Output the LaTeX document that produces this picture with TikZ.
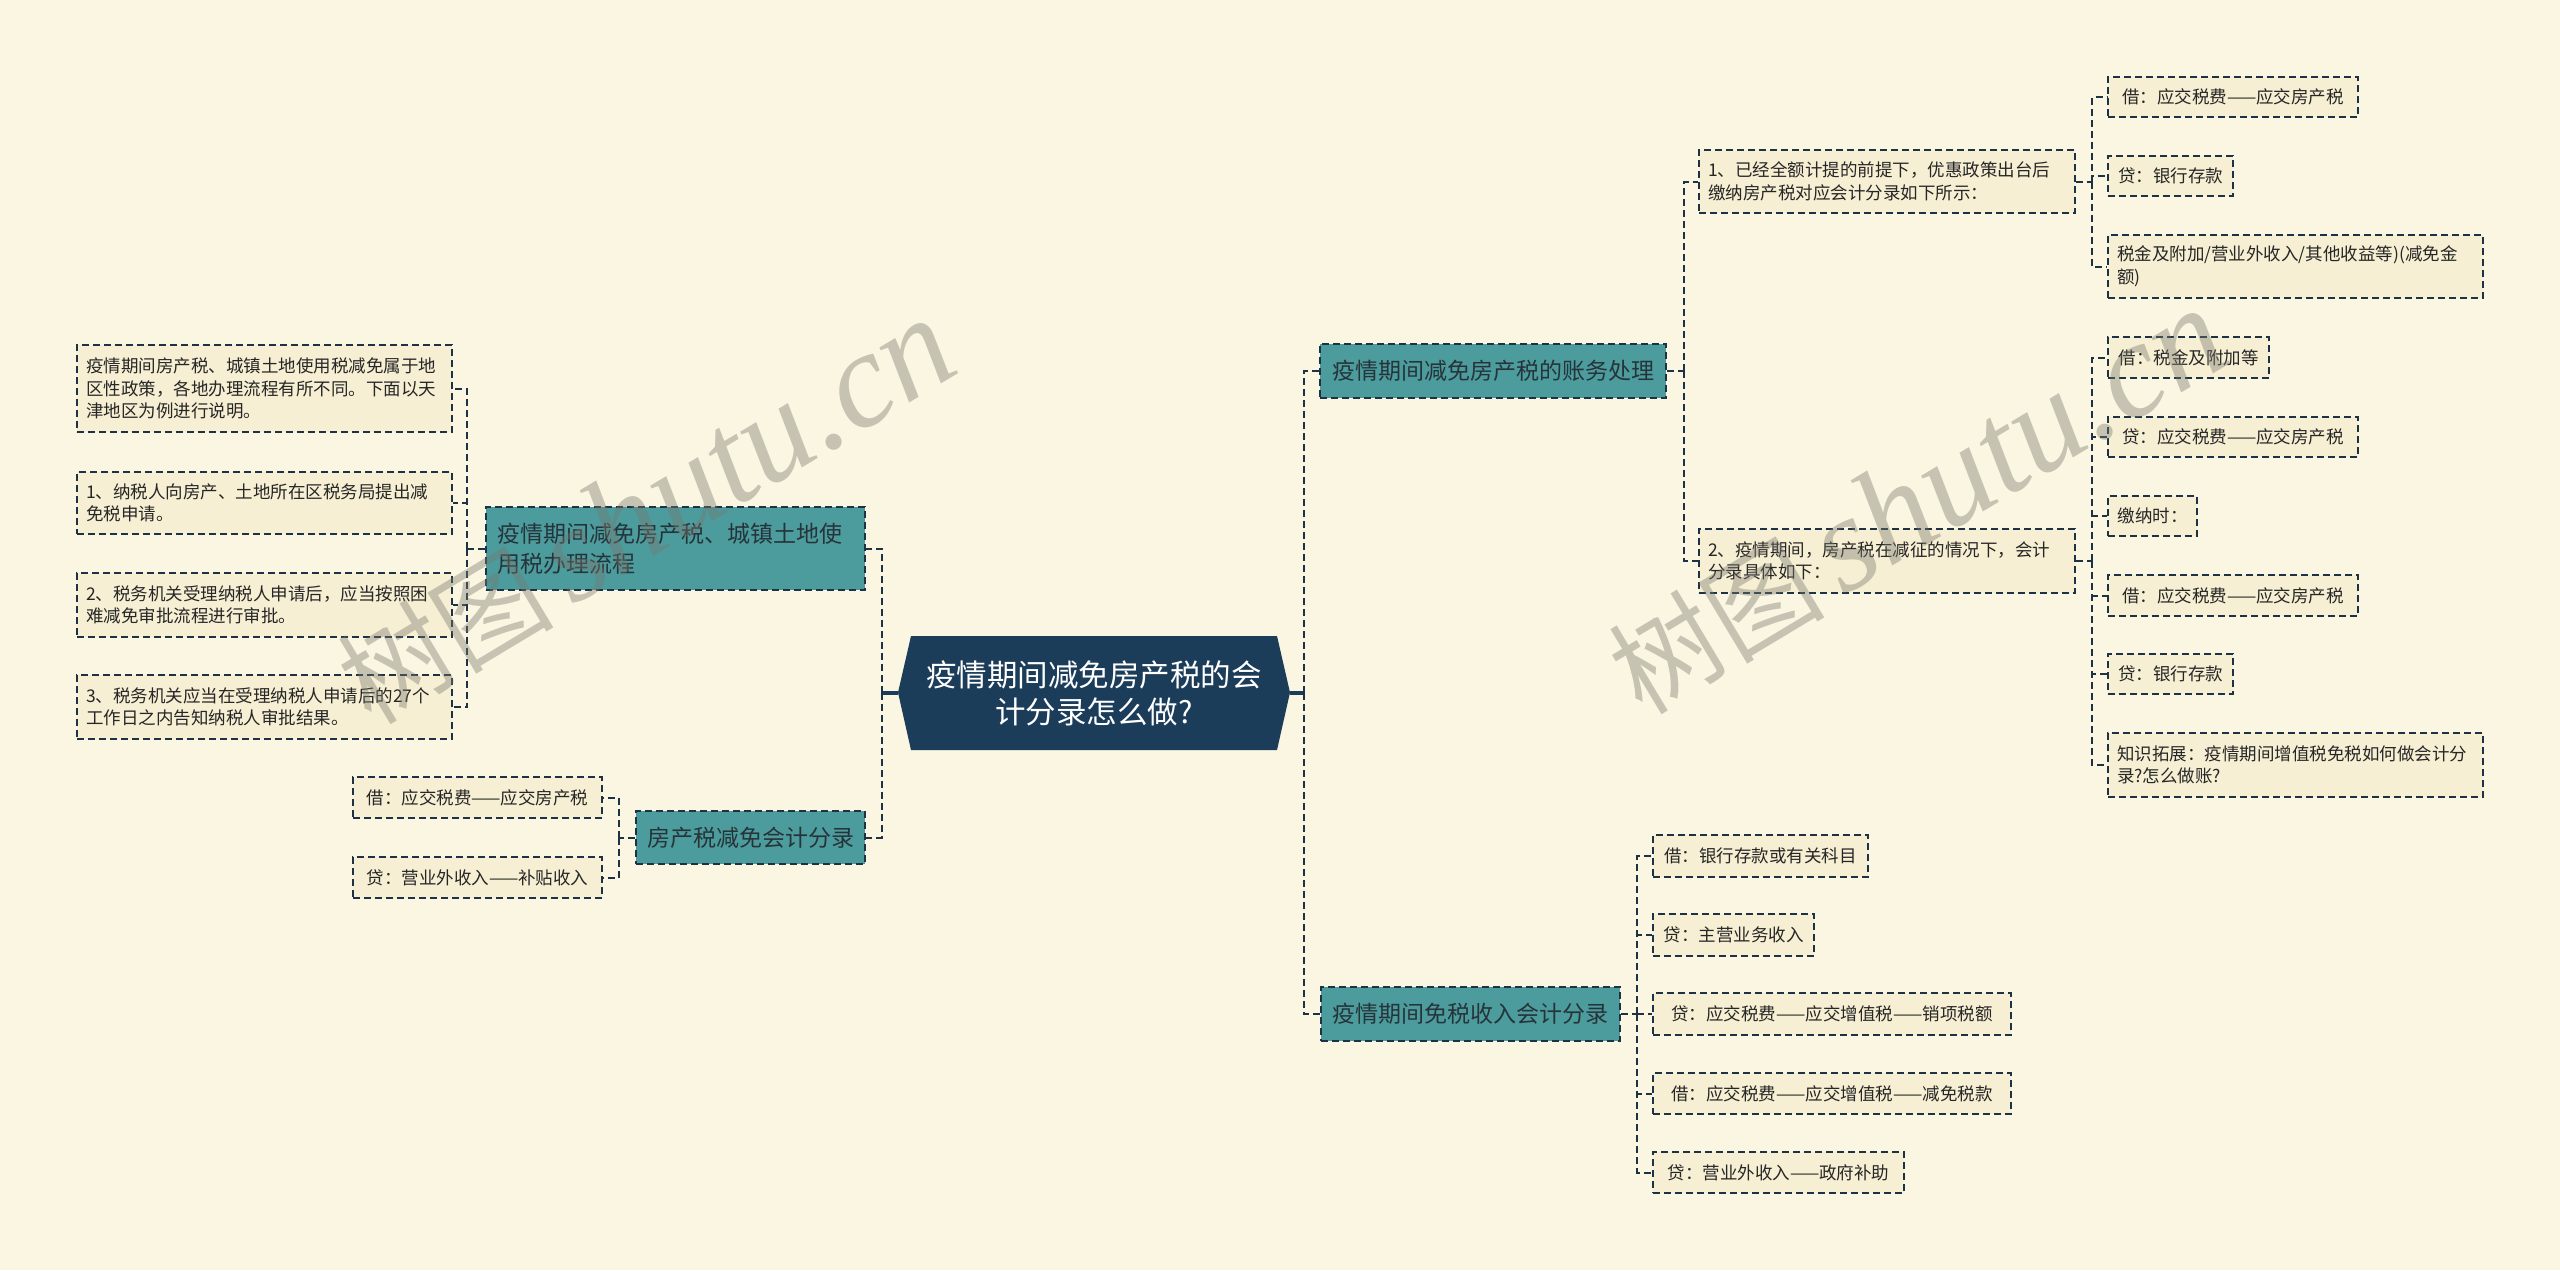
\documentclass[tikz,border=0pt]{standalone}
\usepackage{fontspec}
\setmainfont{Noto Sans CJK SC}
\newfontfamily\wmfont{Liberation Serif}
\usetikzlibrary{calc}
\definecolor{bg}{RGB}{251,246,226}
\definecolor{leaffill}{RGB}{246,239,211}
\definecolor{tealbox}{RGB}{76,156,158}
\definecolor{navy}{RGB}{27,61,90}
\definecolor{edge}{RGB}{30,50,70}
\definecolor{txt}{RGB}{38,38,38}
\definecolor{brtxt}{RGB}{38,52,58}
\definecolor{wm}{RGB}{120,120,110}
\begin{document}
\begin{tikzpicture}[x=0.5pt,y=-0.5pt,
 leaf/.style={draw=edge, line width=1pt, dash pattern=on 3.5pt off 2pt, fill=leaffill, text=txt,
   font=\fontsize{8.75pt}{11.25pt}\selectfont, inner xsep=4.5pt, inner ysep=0pt, align=left},
 br/.style={draw=edge, line width=1pt, dash pattern=on 3.5pt off 2pt, fill=tealbox, text=brtxt,
   font=\fontsize{11.5pt}{15pt}\selectfont, inner xsep=5.5pt, inner ysep=0pt, align=left},
 con/.style={draw=edge, line width=1pt, dash pattern=on 3.5pt off 2pt},
 solidcon/.style={draw=navy, line width=1.6pt},
 wmark/.style={text=wm, opacity=0.4, inner sep=0pt}]
\fill[bg] (0,0) rectangle (2560,1270);
\useasboundingbox (0,0) rectangle (2560,1270);

% central
\fill[navy] (898,692.5) -- (911,636) -- (1277,636) -- (1290,692.5) -- (1277,750) -- (911,750) -- cycle;
\node[text=white, font=\fontsize{15.25pt}{18.5pt}\selectfont, align=center, minimum width=196pt, minimum height=57pt, inner sep=0pt] (c) at (1094,693) {疫情期间减免房产税的会\\计分录怎么做?};

% left branches
\node[br, text width=178.5pt, minimum height=41.5pt] (B1) at (675.5,548.5) {疫情期间减免房产税、城镇土地使\\用税办理流程};
\node[br, minimum width=114.5pt, minimum height=26.5pt] (B2) at (750.5,837.5) {房产税减免会计分录};

\node[leaf, text width=178.5pt, minimum height=43.5pt] (L1) at (264.5,388.5) {疫情期间房产税、城镇土地使用税减免属于地\\区性政策，各地办理流程有所不同。下面以天\\津地区为例进行说明。};
\node[leaf, text width=178.5pt, minimum height=31pt] (L2) at (264.5,503) {1、纳税人向房产、土地所在区税务局提出减\\免税申请。};
\node[leaf, text width=178.5pt, minimum height=32pt] (L3) at (264.5,605) {2、税务机关受理纳税人申请后，应当按照困\\难减免审批流程进行审批。};
\node[leaf, text width=178.5pt, minimum height=32pt] (L4) at (264.5,707) {3、税务机关应当在受理纳税人申请后的27个\\工作日之内告知纳税人审批结果。};

\node[leaf, minimum width=124.5pt, minimum height=20.5pt] (M1) at (477.5,797.5) {借：应交税费——应交房产税};
\node[leaf, minimum width=124.5pt, minimum height=20.5pt] (M2) at (477.5,877.5) {贷：营业外收入——补贴收入};

% right branches
\node[br, minimum width=173pt, minimum height=27pt] (R1) at (1493,371) {疫情期间减免房产税的账务处理};
\node[br, minimum width=149.5pt, minimum height=27pt] (R2) at (1470.5,1014) {疫情期间免税收入会计分录};

\node[leaf, text width=179pt, minimum height=31.5pt] (R1a) at (1887,181.5) {1、已经全额计提的前提下，优惠政策出台后\\缴纳房产税对应会计分录如下所示：};
\node[leaf, text width=179pt, minimum height=32pt] (R1b) at (1887,561) {2、疫情期间，房产税在减征的情况下，会计\\分录具体如下：};

\node[leaf, minimum width=125pt, minimum height=20pt] (a1) at (2233,97) {借：应交税费——应交房产税};
\node[leaf, minimum width=62.5pt, minimum height=20pt] (a2) at (2170.5,176) {贷：银行存款};
\node[leaf, text width=178.5pt, minimum height=31.5pt] (a3) at (2295.5,266.5) {税金及附加/营业外收入/其他收益等)(减免金\\额)};

\node[leaf, minimum width=80.5pt, minimum height=20.5pt] (b1) at (2188.5,357.5) {借：税金及附加等};
\node[leaf, minimum width=125pt, minimum height=20pt] (b2) at (2233,437) {贷：应交税费——应交房产税};
\node[leaf, minimum width=44.5pt, minimum height=20pt] (b3) at (2152.5,516) {缴纳时：};
\node[leaf, minimum width=125pt, minimum height=20.5pt] (b4) at (2233,595.5) {借：应交税费——应交房产税};
\node[leaf, minimum width=62.5pt, minimum height=20pt] (b5) at (2170.5,674) {贷：银行存款};
\node[leaf, text width=178.5pt, minimum height=32pt] (b6) at (2295.5,765) {知识拓展：疫情期间增值税免税如何做会计分\\录?怎么做账?};

\node[leaf, minimum width=107.5pt, minimum height=21pt] (c1) at (1760.5,856) {借：银行存款或有关科目};
\node[leaf, minimum width=80.5pt, minimum height=21pt] (c2) at (1733.5,935) {贷：主营业务收入};
\node[leaf, minimum width=179pt, minimum height=21pt] (c3) at (1832,1014) {贷：应交税费——应交增值税——销项税额};
\node[leaf, minimum width=179pt, minimum height=20.5pt] (c4) at (1832,1093.5) {借：应交税费——应交增值税——减免税款};
\node[leaf, minimum width=125.5pt, minimum height=20.5pt] (c5) at (1778.5,1172.5) {贷：营业外收入——政府补助};

% connectors
\draw[solidcon] (c.west) -- ++(-16,0) coordinate (lbus);
\draw[con] (lbus) |- (B1.east);
\draw[con] (lbus) |- (B2.east);
\draw[solidcon] (c.east) -- ++(14,0) coordinate (rbus);
\draw[con] (rbus) |- (R1.west);
\draw[con] (rbus) |- (R2.west);

\draw[con] (B1.west) -- ++(-18,0) coordinate (b1bus);
\foreach \n in {L1,L2,L3,L4} \draw[con] (b1bus) |- (\n.east);
\draw[con] (B2.west) -- ++(-16.5,0) coordinate (b2bus);
\foreach \n in {M1,M2} \draw[con] (b2bus) |- (\n.east);

\draw[con] (R1.east) -- ++(17,0) coordinate (r1bus);
\foreach \n in {R1a,R1b} \draw[con] (r1bus) |- (\n.west);
\draw[con] (R1a.east) -- ++(16,0) coordinate (r1abus);
\foreach \n in {a1,a2,a3} \draw[con] (r1abus) |- (\n.west);
\draw[con] (R1b.east) -- ++(16,0) coordinate (r1bbus);
\foreach \n in {b1,b2,b3,b4,b5,b6} \draw[con] (r1bbus) |- (\n.west);
\draw[con] (R2.east) -- ++(16,0) coordinate (r2bus);
\foreach \n in {c1,c2,c3,c4,c5} \draw[con] (r2bus) |- (\n.west);

% watermarks
\node[wmark, rotate=31] (wm1) at (646,512) {\fontsize{54pt}{54pt}\selectfont 树图\,{\wmfont\itshape\fontsize{68pt}{68pt}\selectfont shutu.cn}};
\node[wmark, rotate=31] (wm2) at (1917,502) {\fontsize{54pt}{54pt}\selectfont 树图\,{\wmfont\itshape\fontsize{68pt}{68pt}\selectfont shutu.cn}};
\end{tikzpicture}
\end{document}
